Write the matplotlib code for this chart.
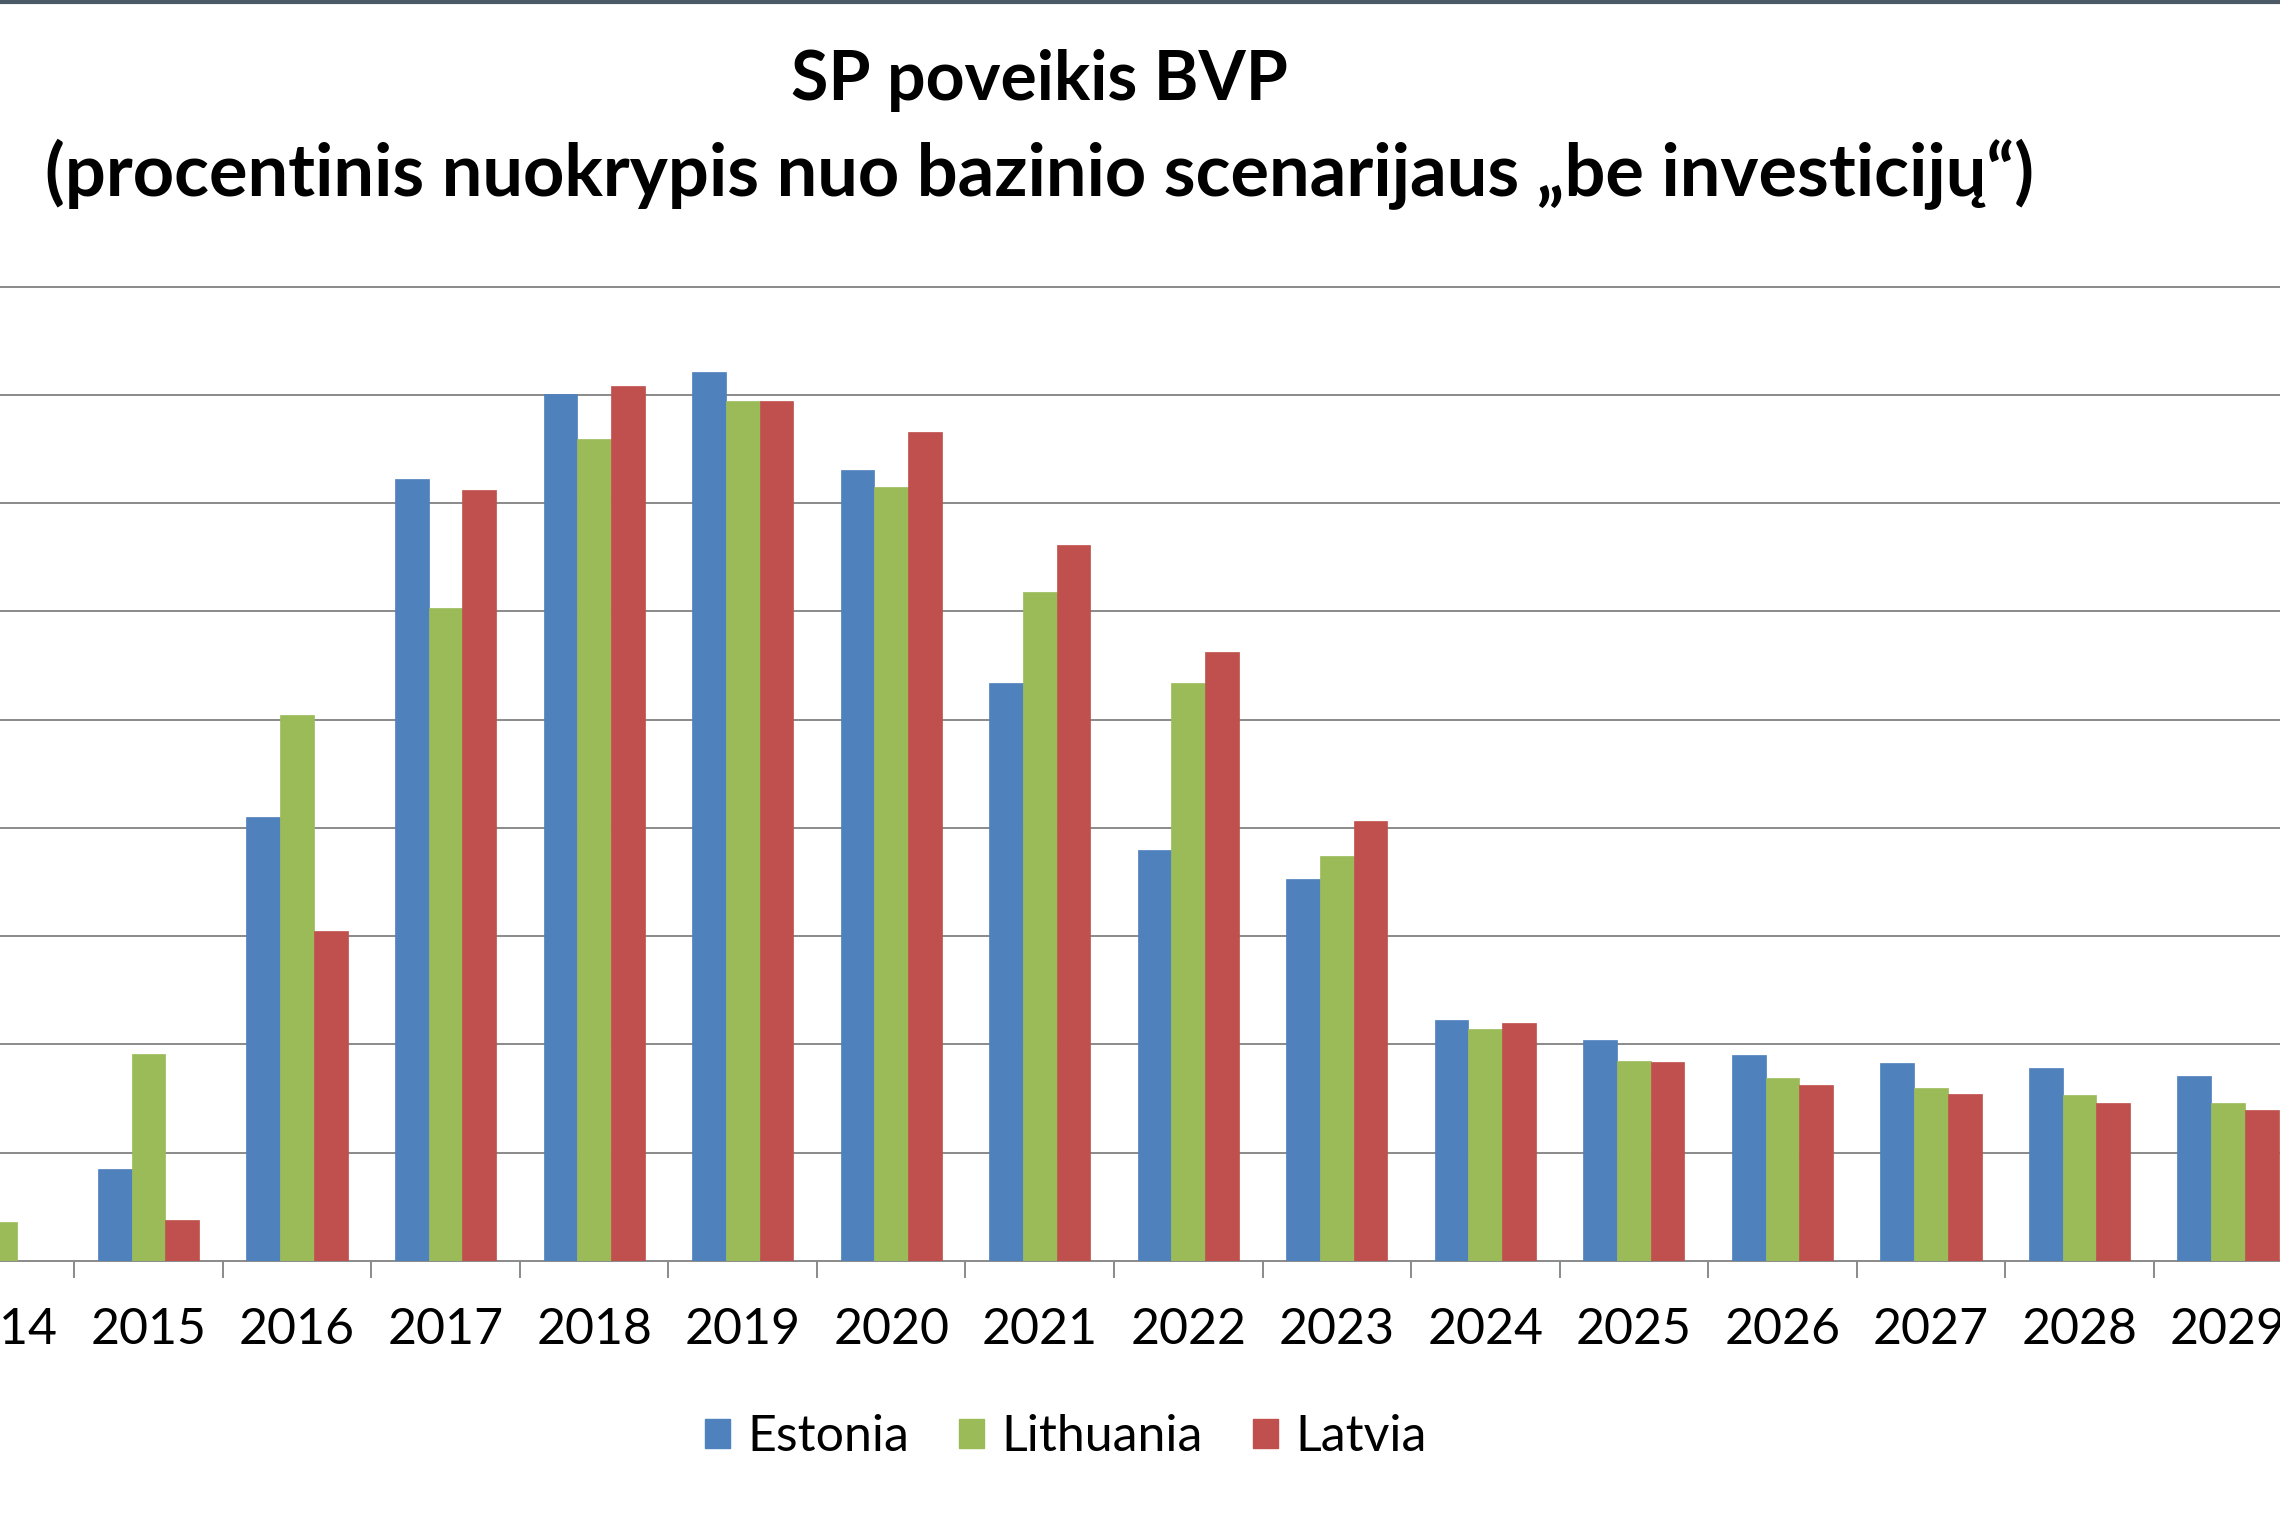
import matplotlib
matplotlib.use("Agg")
import matplotlib.pyplot as plt
import numpy as np
from matplotlib.lines import Line2D
from matplotlib.patches import Patch

YEARS = [str(y) for y in range(2014, 2030)]
ESTONIA = [0.25, 0.85, 4.10, 7.22, 8.01, 8.21, 7.31, 5.34, 3.80, 3.53, 2.23, 2.04, 1.90, 1.83, 1.78, 1.71]
LITHUANIA = [0.36, 1.91, 5.04, 6.03, 7.59, 7.94, 7.15, 6.18, 5.34, 3.74, 2.14, 1.85, 1.69, 1.60, 1.53, 1.46]
LATVIA = [0.0, 0.38, 3.05, 7.12, 8.08, 7.94, 7.66, 6.61, 5.62, 4.06, 2.20, 1.84, 1.63, 1.54, 1.46, 1.39]
SERIES = ["Estonia", "Lithuania", "Latvia"]
COLORS = ["#4F81BD", "#9BBB59", "#C0504D"]

FONT = "Lato"
GRID_COLOR = "#8a8a8a"


def main() -> None:
    fig = plt.figure(figsize=(22.8, 15.2), dpi=100)
    y_top = 9.05
    ax = fig.add_axes([0, 0.1704, 1, 0.6411 * y_top / 9])

    x = np.arange(len(YEARS))
    width = 0.227
    for k, (values, color) in enumerate(zip([ESTONIA, LITHUANIA, LATVIA], COLORS)):
        ax.bar(x + (k - 1) * width, values, width=width, color=color,
               edgecolor=color, linewidth=0.5, zorder=3)

    ax.set_xlim(0.082, 15.35)
    ax.set_ylim(0, y_top)

    ax.set_yticks(np.arange(1, 10))
    ax.yaxis.grid(True, color=GRID_COLOR, linewidth=1.4, zorder=0)
    ax.tick_params(axis="y", left=False, labelleft=False)
    ax.set_axisbelow(True)

    ax.set_xticks(x)
    ax.set_xticklabels(YEARS, fontsize=36, family=FONT)
    ax.set_xticks(x[:-1] + 0.5, minor=True)
    ax.tick_params(axis="x", which="major", length=0, pad=33)
    ax.tick_params(axis="x", which="minor", length=12, width=1.4, color=GRID_COLOR, direction="out")

    for side in ("left", "right", "top"):
        ax.spines[side].set_visible(False)
    ax.spines["bottom"].set_color(GRID_COLOR)
    ax.spines["bottom"].set_linewidth(1.4)

    fig.text(0.456, 0.947, "SP poveikis BVP", ha="center", va="center",
             fontsize=49, fontweight="bold", family=FONT)
    fig.text(0.456, 0.885, "(procentinis nuokrypis nuo bazinio scenarijaus \u201ebe investicij\u0173\u201c)",
             ha="center", va="center", fontsize=52, fontweight="bold", family=FONT)

    handles = [Patch(facecolor=c, edgecolor=c) for c in COLORS]
    fig.legend(handles, SERIES, loc="center", bbox_to_anchor=(0.4675, 0.0546), ncol=3,
               frameon=False, prop={"family": FONT, "size": 36},
               handlelength=0.5, handleheight=0.5, handletextpad=0.35, columnspacing=1.0)

    fig.add_artist(Line2D([0, 1], [0.9985, 0.9985], color="#4b5a66", linewidth=3))

    fig.savefig("out.png", dpi=100)


if __name__ == "__main__":
    main()
